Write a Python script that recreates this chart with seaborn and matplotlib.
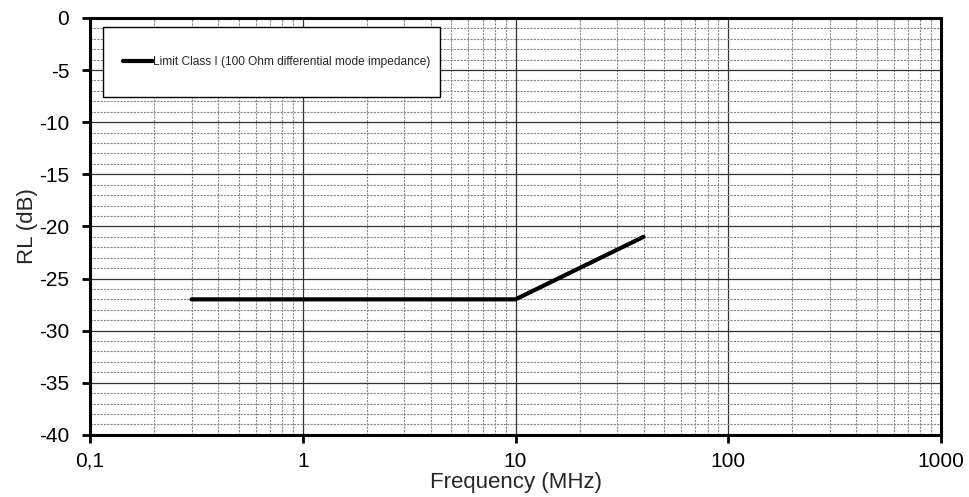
import numpy as np
import pandas as pd
import matplotlib
matplotlib.use('Agg')
import matplotlib.pyplot as plt
from matplotlib.patches import Rectangle
from matplotlib.ticker import FixedLocator, FuncFormatter, MultipleLocator
import seaborn as sns

# limit line (frequency in MHz, return loss in dB)
freq_mhz = [0.3, 10, 40]
rl_db = [-27, -27, -21]
series_name = 'Limit Class I (100 Ohm differential mode impedance)'

x_ticks = [0.1, 1, 10, 100, 1000]
x_tick_labels = ['0,1', '1', '10', '100', '1000']
y_ticks = [0, -5, -10, -15, -20, -25, -30, -35, -40]

df = pd.DataFrame({'Frequency': freq_mhz, 'RL': rl_db, 'series': series_name})

sns.set_style('white')
plt.rcParams['font.family'] = ['Liberation Sans', 'DejaVu Sans']
plt.rcParams['axes.unicode_minus'] = False

fig = plt.figure(figsize=(9.69, 4.97), dpi=100)
ax = fig.add_axes([0.093, 0.125, 0.878, 0.839])

sns.lineplot(data=df, x='Frequency', y='RL', hue='series', palette=['black'],
             linewidth=3, ax=ax, zorder=5)

ax.set_xscale('log')
ax.set_xlim(0.1, 1000)
ax.set_ylim(-40, 0)

ax.xaxis.set_major_locator(FixedLocator(x_ticks))
ax.xaxis.set_major_formatter(FuncFormatter(lambda v, p: x_tick_labels[x_ticks.index(v)] if v in x_ticks else ''))
minors = [m * 10.0 ** e for e in range(-1, 3) for m in range(2, 10)]
ax.xaxis.set_minor_locator(FixedLocator(minors))
ax.xaxis.set_minor_formatter(FuncFormatter(lambda v, p: ''))
ax.yaxis.set_major_locator(FixedLocator(y_ticks))
ax.yaxis.set_major_formatter(FuncFormatter(lambda v, p: '%d' % v))
ax.yaxis.set_minor_locator(MultipleLocator(1))

ax.grid(which='major', color='#333333', linewidth=0.9, linestyle='-')
ax.grid(which='minor', color='#8a8a8a', linewidth=0.8, linestyle=(0, (2, 1)))
ax.set_axisbelow(True)

for s in ax.spines.values():
    s.set_visible(True)
    s.set_color('black')
    s.set_linewidth(2.2)

ax.tick_params(which='major', direction='out', length=6, width=2, labelsize=15,
               left=True, bottom=True, colors='black')
ax.tick_params(axis='x', which='major', pad=6)
ax.tick_params(axis='y', which='major', pad=9)
ax.tick_params(which='minor', length=0)

ax.set_xlabel('Frequency (MHz)', fontsize=16, labelpad=1)
ax.set_ylabel('RL (dB)', fontsize=16, labelpad=1)

# legend frame
box = Rectangle((0.0153, 0.8106), 0.3960, 0.1674, transform=ax.transAxes,
                facecolor='white', edgecolor='black', linewidth=1.0, zorder=8)
ax.add_patch(box)

leg = ax.legend(loc='center left', bbox_to_anchor=(0.039, 0.894),
                prop={'size': 8.6}, frameon=False,
                handlelength=2.5, handletextpad=0.0,
                borderpad=0, borderaxespad=0)
for h in leg.get_lines():
    h.set_linewidth(3)
leg.set_zorder(10)

fig.savefig('out.png', dpi=100)
